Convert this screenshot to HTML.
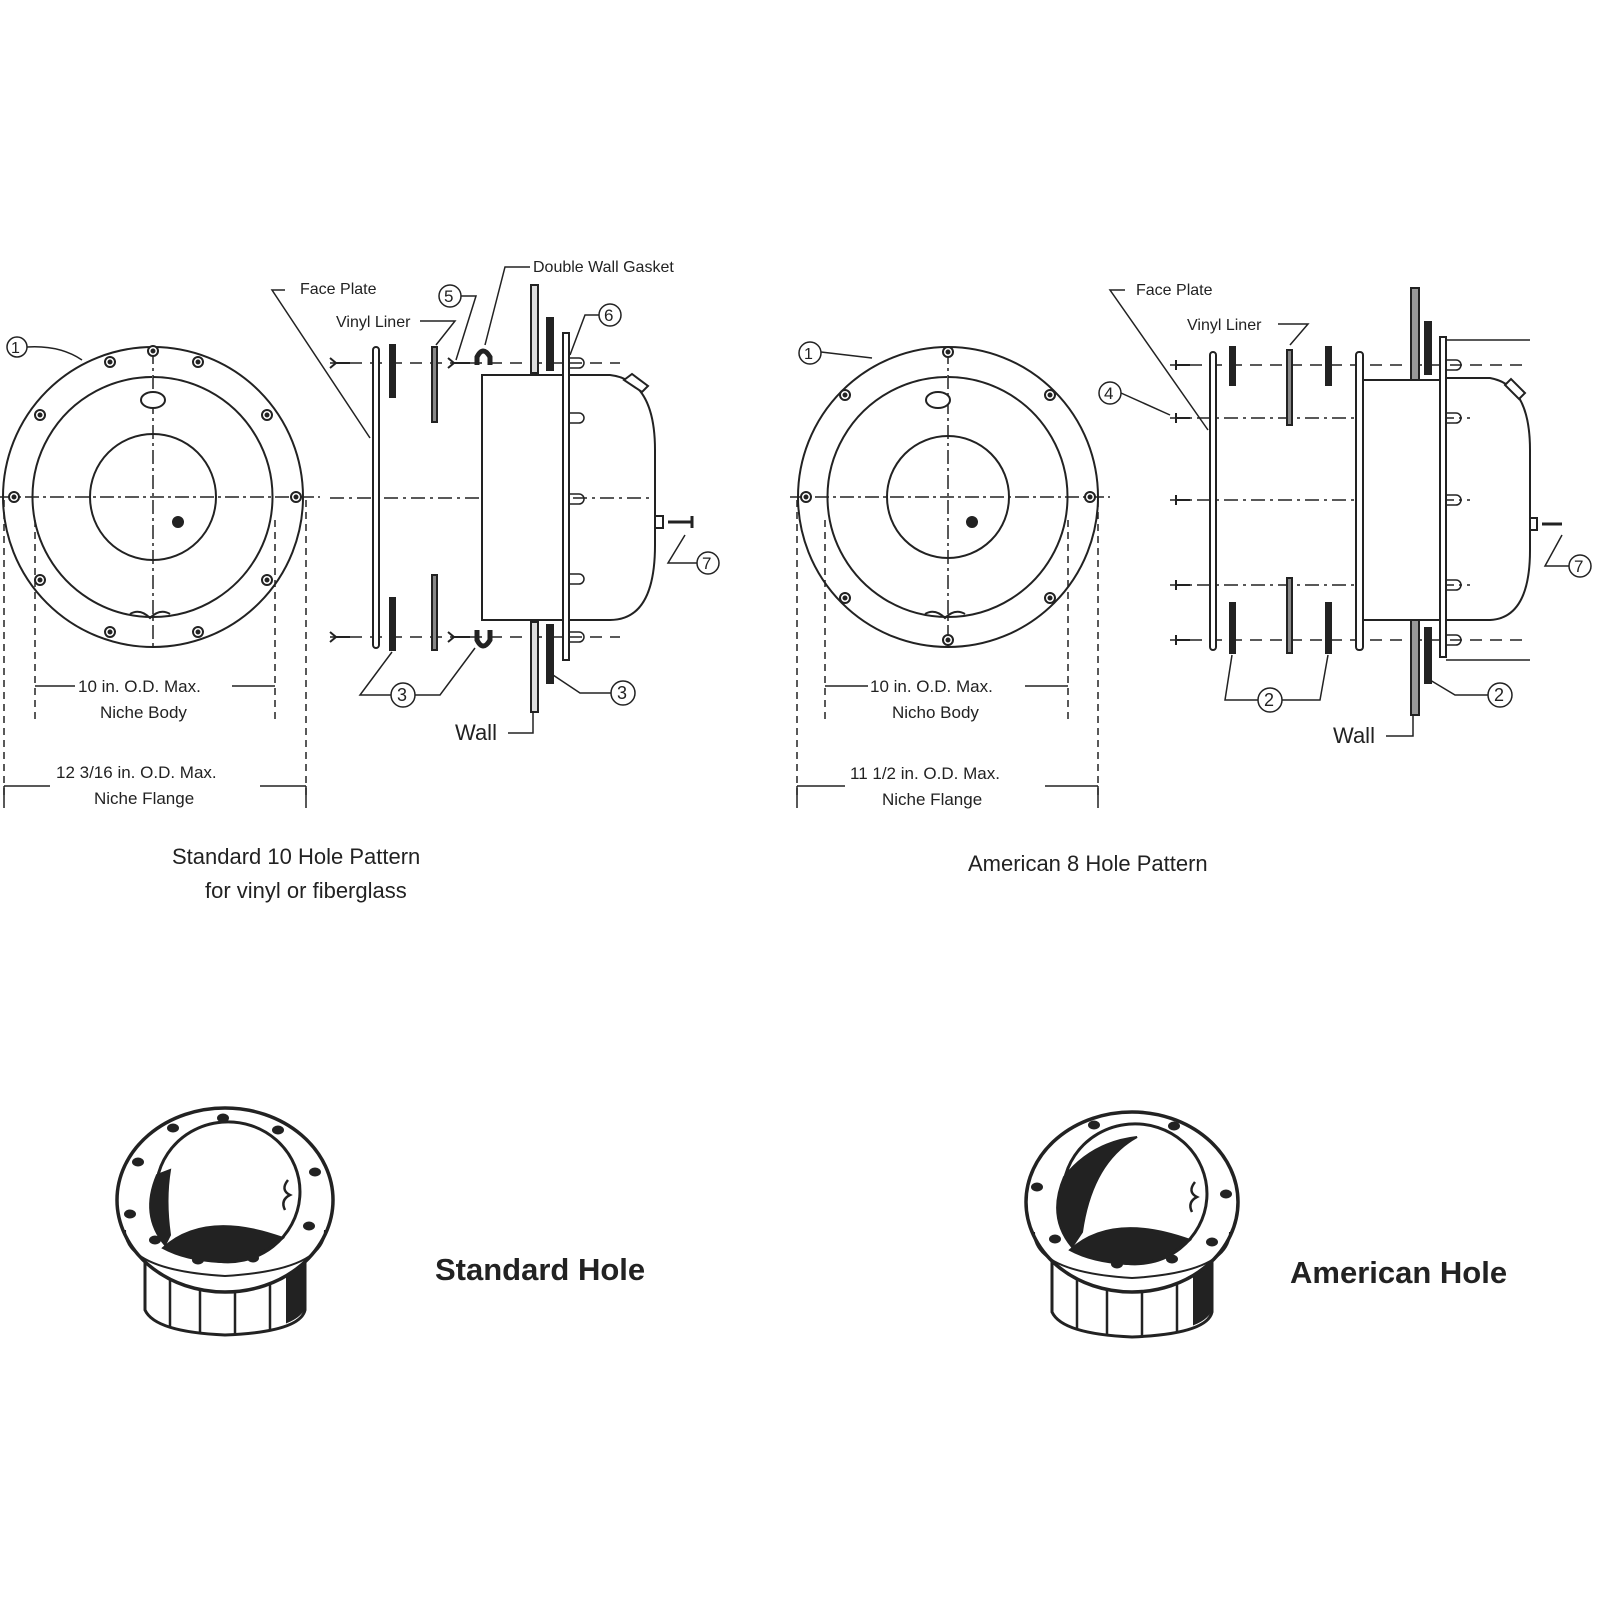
<!DOCTYPE html>
<html><head><meta charset="utf-8"><style>html,body{margin:0;padding:0;background:#fff}svg{display:block}text{font-family:"Liberation Sans",sans-serif;fill:#222}</style></head>
<body>
<svg width="1600" height="1600" viewBox="0 0 1600 1600" xmlns="http://www.w3.org/2000/svg" fill="none" stroke="#222" stroke-width="2">
<defs>
<g id="hole"><circle r="5" fill="#fff" stroke-width="2"/><circle r="1.5" fill="#222"/></g>
</defs>

<!-- LEFT FRONT VIEW -->
<g>
<circle cx="153" cy="497" r="150"/>
<path d="M153 377 A120 120 0 1 1 152 377" />
<circle cx="153" cy="497" r="63"/>
<line x1="153" y1="350" x2="153" y2="650" stroke-dasharray="14 4 3 4" stroke-width="1.5"/>
<line x1="0" y1="497" x2="320" y2="497" stroke-dasharray="14 4 3 4" stroke-width="1.5"/>
<ellipse cx="153" cy="400" rx="12" ry="8" fill="#fff"/>
<circle cx="178" cy="522" r="5" fill="#222"/>
<path d="M130 614 Q140 608 150 618 Q160 608 170 614"/>
<g>
<use href="#hole" x="153" y="351"/><use href="#hole" x="110" y="362"/><use href="#hole" x="198" y="362"/>
<use href="#hole" x="40" y="415"/><use href="#hole" x="267" y="415"/>
<use href="#hole" x="14" y="497"/><use href="#hole" x="296" y="497"/>
<use href="#hole" x="40" y="580"/><use href="#hole" x="267" y="580"/>
<use href="#hole" x="110" y="632"/><use href="#hole" x="198" y="632"/>
</g>
<circle cx="17" cy="347" r="10" stroke-width="1.5"/><text x="11" y="353" font-size="16" stroke="none">1</text>
<path d="M27 347 Q60 345 82 360" stroke-width="1.5"/>
<g stroke-dasharray="7 5" stroke-width="1.5">
<line x1="35" y1="520" x2="35" y2="720"/><line x1="275" y1="520" x2="275" y2="720"/>
<line x1="4" y1="500" x2="4" y2="800"/><line x1="306" y1="500" x2="306" y2="800"/>
</g>
<path d="M35 686 H75 M232 686 H275" stroke-width="1.5"/>
<text x="78" y="692" font-size="17" stroke="none">10 in. O.D. Max.</text>
<text x="100" y="718" font-size="17" stroke="none">Niche Body</text>
<path d="M4 786 H50 M260 786 H306 M4 786 v22 M306 786 v22" stroke-width="1.5"/>
<text x="56" y="778" font-size="17" stroke="none">12 3/16 in. O.D. Max.</text>
<text x="94" y="804" font-size="17" stroke="none">Niche Flange</text>
<text x="172" y="864" font-size="22" stroke="none">Standard 10 Hole Pattern</text>
<text x="205" y="898" font-size="22" stroke="none">for vinyl or fiberglass</text>
</g>

<!-- LEFT SIDE VIEW -->
<g>
<line x1="330" y1="498" x2="650" y2="498" stroke-dasharray="14 5 3 5" stroke-width="1.5"/>
<line x1="330" y1="363" x2="620" y2="363" stroke-dasharray="12 8" stroke-width="1.5"/>
<line x1="330" y1="637" x2="620" y2="637" stroke-dasharray="12 8" stroke-width="1.5"/>
<rect x="373" y="347" width="6" height="301" rx="3" fill="#fff"/>
<rect x="390" y="345" width="5" height="52" fill="#222"/><rect x="390" y="598" width="5" height="52" fill="#222"/>
<rect x="432" y="347" width="5" height="75" fill="#888"/><rect x="432" y="575" width="5" height="75" fill="#888"/>
<path d="M477 365 V357 Q483 345 490 357 V365" stroke-width="5"/>
<path d="M477 630 V640 Q483 652 490 640 V630" stroke-width="5"/>
<rect x="482" y="375" width="84" height="245" fill="#fff"/>
<rect x="531" y="285" width="7" height="88" fill="#ddd"/><rect x="531" y="622" width="7" height="90" fill="#ddd"/>
<rect x="547" y="318" width="6" height="52" fill="#222"/><rect x="547" y="625" width="6" height="58" fill="#222"/>
<rect x="563" y="333" width="6" height="327" fill="#fff"/>
<path d="M569 375 H610 Q655 380 655 450 V545 Q655 620 610 620 H569"/>
<path d="M624 380 l8 -6 l16 12 l-6 6 z" fill="#fff"/>
<g stroke-width="1.5"><path d="M569 358 h10 a5 5 0 0 1 0 10 h-10"/><path d="M569 413 h10 a5 5 0 0 1 0 10 h-10"/><path d="M569 494 h10 a5 5 0 0 1 0 10 h-10"/><path d="M569 574 h10 a5 5 0 0 1 0 10 h-10"/><path d="M569 632 h10 a5 5 0 0 1 0 10 h-10"/></g>
<rect x="655" y="516" width="8" height="12"/><path d="M668 522 H692 M692 516 v12" stroke-width="3"/>
<path d="M330 358 l6 5 l-6 5 M336 363 H350" stroke-width="2"/>
<path d="M330 632 l6 5 l-6 5 M336 637 H350" stroke-width="2"/>
<path d="M448 358 l6 5 l-6 5 M454 363 H470" stroke-width="2"/>
<path d="M448 632 l6 5 l-6 5 M454 637 H470" stroke-width="2"/>
<g stroke-width="1.5">
<path d="M370 438 L272 290 H285"/><text x="300" y="294" font-size="16" stroke="none">Face Plate</text>
<text x="336" y="327" font-size="16" stroke="none">Vinyl Liner</text><path d="M420 321 H455 L436 345"/>
<circle cx="450" cy="296" r="11"/><text x="444" y="302" font-size="17" stroke="none">5</text>
<path d="M461 296 H476 L456 360"/>
<path d="M485 345 L505 267 H530"/><text x="533" y="272" font-size="16" stroke="none">Double Wall Gasket</text>
<circle cx="610" cy="315" r="11"/><text x="604" y="321" font-size="17" stroke="none">6</text>
<path d="M599 315 H585 L570 355"/>
<circle cx="708" cy="563" r="11"/><text x="702" y="569" font-size="17" stroke="none">7</text>
<path d="M697 563 H668 L685 535"/>
<circle cx="403" cy="695" r="12"/><text x="397" y="701" font-size="18" stroke="none">3</text>
<path d="M391 695 H360 L392 652 M415 695 H440 L475 648"/>
<circle cx="623" cy="693" r="12"/><text x="617" y="699" font-size="18" stroke="none">3</text>
<path d="M611 693 H580 L553 675"/>
<text x="455" y="740" font-size="22" stroke="none">Wall</text><path d="M508 733 H533 V712"/>
</g>
</g>

<!-- RIGHT FRONT VIEW -->
<g>
<circle cx="948" cy="497" r="150"/>
<path d="M948 377 A120 120 0 1 1 947 377"/>
<circle cx="948" cy="497" r="61"/>
<line x1="948" y1="350" x2="948" y2="650" stroke-dasharray="14 4 3 4" stroke-width="1.5"/>
<line x1="790" y1="497" x2="1110" y2="497" stroke-dasharray="14 4 3 4" stroke-width="1.5"/>
<ellipse cx="938" cy="400" rx="12" ry="8" fill="#fff"/>
<circle cx="972" cy="522" r="5" fill="#222"/>
<path d="M925 614 Q935 608 945 618 Q955 608 965 614"/>
<use href="#hole" x="948" y="352"/><use href="#hole" x="845" y="395"/><use href="#hole" x="1050" y="395"/>
<use href="#hole" x="806" y="497"/><use href="#hole" x="1090" y="497"/>
<use href="#hole" x="845" y="598"/><use href="#hole" x="1050" y="598"/><use href="#hole" x="948" y="640"/>
<circle cx="810" cy="353" r="11" stroke-width="1.5"/><text x="804" y="359" font-size="16" stroke="none">1</text>
<path d="M821 352 L872 358" stroke-width="1.5"/>
<g stroke-dasharray="7 5" stroke-width="1.5">
<line x1="825" y1="520" x2="825" y2="720"/><line x1="1068" y1="520" x2="1068" y2="720"/>
<line x1="797" y1="500" x2="797" y2="800"/><line x1="1098" y1="500" x2="1098" y2="800"/>
</g>
<path d="M825 686 H868 M1025 686 H1068" stroke-width="1.5"/>
<text x="870" y="692" font-size="17" stroke="none">10 in. O.D. Max.</text>
<text x="892" y="718" font-size="17" stroke="none">Nicho Body</text>
<path d="M797 786 H845 M1045 786 H1098 M797 786 v22 M1098 786 v22" stroke-width="1.5"/>
<text x="850" y="779" font-size="17" stroke="none">11 1/2 in. O.D. Max.</text>
<text x="882" y="805" font-size="17" stroke="none">Niche Flange</text>
<text x="968" y="871" font-size="22" stroke="none">American 8 Hole Pattern</text>
</g>

<!-- RIGHT SIDE VIEW -->
<g>
<g stroke-dasharray="12 8" stroke-width="1.5">
<line x1="1170" y1="365" x2="1530" y2="365"/><line x1="1170" y1="640" x2="1530" y2="640"/>
</g>
<g stroke-dasharray="14 5 3 5" stroke-width="1.5">
<line x1="1170" y1="418" x2="1470" y2="418"/><line x1="1170" y1="500" x2="1470" y2="500"/><line x1="1170" y1="585" x2="1470" y2="585"/>
</g>
<rect x="1210" y="352" width="6" height="298" rx="3" fill="#fff"/>
<rect x="1230" y="347" width="5" height="38" fill="#222"/><rect x="1230" y="603" width="5" height="50" fill="#222"/>
<rect x="1287" y="350" width="5" height="75" fill="#888"/><rect x="1287" y="578" width="5" height="75" fill="#888"/>
<rect x="1326" y="347" width="5" height="38" fill="#222"/><rect x="1326" y="603" width="5" height="50" fill="#222"/>
<rect x="1356" y="352" width="7" height="298" rx="3" fill="#fff"/>
<rect x="1363" y="380" width="80" height="240" fill="#fff"/>
<rect x="1411" y="288" width="8" height="92" fill="#999"/><rect x="1411" y="620" width="8" height="95" fill="#999"/>
<rect x="1425" y="322" width="6" height="52" fill="#222"/><rect x="1425" y="628" width="6" height="55" fill="#222"/>
<rect x="1440" y="337" width="6" height="320" fill="#fff"/>
<path d="M1446 378 H1490 Q1530 385 1530 450 V550 Q1530 618 1490 620 H1446"/>
<path d="M1446 340 H1530 M1446 660 H1530" stroke-width="1.5"/>
<path d="M1505 385 l6 -6 l14 14 l-6 6 z" fill="#fff"/>
<g stroke-width="1.5"><path d="M1446 360 h10 a5 5 0 0 1 0 10 h-10"/><path d="M1446 413 h10 a5 5 0 0 1 0 10 h-10"/><path d="M1446 495 h10 a5 5 0 0 1 0 10 h-10"/><path d="M1446 580 h10 a5 5 0 0 1 0 10 h-10"/><path d="M1446 635 h10 a5 5 0 0 1 0 10 h-10"/></g>
<rect x="1530" y="518" width="7" height="12"/><path d="M1542 524 H1562" stroke-width="3"/>
<g stroke-width="2"><path d="M1176 360 v10 M1176 365 H1190"/><path d="M1176 413 v10 M1176 418 H1190"/><path d="M1176 495 v10 M1176 500 H1190"/><path d="M1176 580 v10 M1176 585 H1190"/><path d="M1176 635 v10 M1176 640 H1190"/></g>
<g stroke-width="1.5">
<path d="M1208 430 L1110 290 H1125"/><text x="1136" y="295" font-size="16" stroke="none">Face Plate</text>
<text x="1187" y="330" font-size="16" stroke="none">Vinyl Liner</text><path d="M1278 324 H1308 L1290 345"/>
<circle cx="1110" cy="393" r="11"/><text x="1104" y="399" font-size="17" stroke="none">4</text>
<path d="M1121 393 L1170 415"/>
<circle cx="1580" cy="566" r="11"/><text x="1574" y="572" font-size="17" stroke="none">7</text>
<path d="M1569 566 H1545 L1562 535"/>
<circle cx="1270" cy="700" r="12"/><text x="1264" y="706" font-size="18" stroke="none">2</text>
<path d="M1258 700 H1225 L1232 655 M1282 700 H1320 L1328 655"/>
<circle cx="1500" cy="695" r="12"/><text x="1494" y="701" font-size="18" stroke="none">2</text>
<path d="M1488 695 H1455 L1430 680"/>
<text x="1333" y="743" font-size="22" stroke="none">Wall</text><path d="M1386 736 H1413 V715"/>
</g>
</g>

<!-- BOTTOM ISOMETRIC HOLES -->
<g transform="translate(225,1200)">
<path d="M-80 50 V110 Q-70 132 0 135 Q75 132 80 110 V50" fill="#fff" stroke-width="3"/>
<path d="M-55 70 V127 M-25 75 V133 M10 76 V135 M45 72 V130" stroke-width="2.5"/>
<path d="M62 60 V122 Q74 117 78 110 V55 z" fill="#222"/>
<ellipse cx="0" cy="0" rx="108" ry="92" fill="#fff" stroke-width="3.5"/>
<path d="M-100 30 Q-100 70 0 76 Q100 70 100 30" stroke-width="2"/>
<path d="M-68 -20 A72 70 0 1 1 -40 48" stroke-width="3"/>
<path d="M-68 -25 Q-85 15 -60 45 L-55 35 Q-60 0 -55 -30 z" fill="#222"/>
<path d="M-62 48 Q-20 10 58 38 Q30 62 -5 62 Q-40 60 -62 48 z" fill="#222"/>
<path d="M63 -20 Q55 -10 65 -5 Q55 0 60 10" stroke-width="2.5"/>
<g fill="#222" stroke="none"><ellipse cx="-2" cy="-82" rx="6" ry="4.5"/><ellipse cx="-52" cy="-72" rx="6" ry="4.5"/><ellipse cx="53" cy="-70" rx="6" ry="4.5"/><ellipse cx="-87" cy="-38" rx="6" ry="4.5"/><ellipse cx="90" cy="-28" rx="6" ry="4.5"/><ellipse cx="-95" cy="14" rx="6" ry="4.5"/><ellipse cx="84" cy="26" rx="6" ry="4.5"/><ellipse cx="-70" cy="40" rx="6" ry="4.5"/><ellipse cx="-27" cy="60" rx="6" ry="4.5"/><ellipse cx="28" cy="58" rx="6" ry="4.5"/></g>
</g>
<text x="435" y="1280" font-size="31" font-weight="bold" stroke="none">Standard Hole</text>

<g transform="translate(1132,1202)">
<path d="M-80 50 V110 Q-70 132 0 135 Q75 132 80 110 V50" fill="#fff" stroke-width="3"/>
<path d="M-55 70 V127 M-25 75 V133 M10 76 V135 M45 72 V130" stroke-width="2.5"/>
<path d="M62 60 V122 Q74 117 78 110 V55 z" fill="#222"/>
<ellipse cx="0" cy="0" rx="106" ry="90" fill="#fff" stroke-width="3.5"/>
<path d="M-98 30 Q-98 70 0 76 Q98 70 98 30" stroke-width="2"/>
<path d="M-68 -20 A72 70 0 1 1 -40 48" stroke-width="3"/>
<path d="M-68 -25 Q-85 15 -60 45 L-50 30 Q-40 -40 5 -65 Q-40 -60 -68 -25 z" fill="#222"/>
<path d="M-62 48 Q-20 10 58 38 Q30 62 -5 62 Q-40 60 -62 48 z" fill="#222"/>
<path d="M63 -20 Q55 -10 65 -5 Q55 0 60 10" stroke-width="2.5"/>
<g fill="#222" stroke="none"><ellipse cx="-38" cy="-77" rx="6" ry="4.5"/><ellipse cx="42" cy="-76" rx="6" ry="4.5"/><ellipse cx="-95" cy="-15" rx="6" ry="4.5"/><ellipse cx="94" cy="-8" rx="6" ry="4.5"/><ellipse cx="-77" cy="37" rx="6" ry="4.5"/><ellipse cx="80" cy="40" rx="6" ry="4.5"/><ellipse cx="-15" cy="62" rx="6" ry="4.5"/><ellipse cx="40" cy="57" rx="6" ry="4.5"/></g>
</g>
<text x="1290" y="1283" font-size="31" font-weight="bold" stroke="none">American Hole</text>
</svg>
</body></html>
